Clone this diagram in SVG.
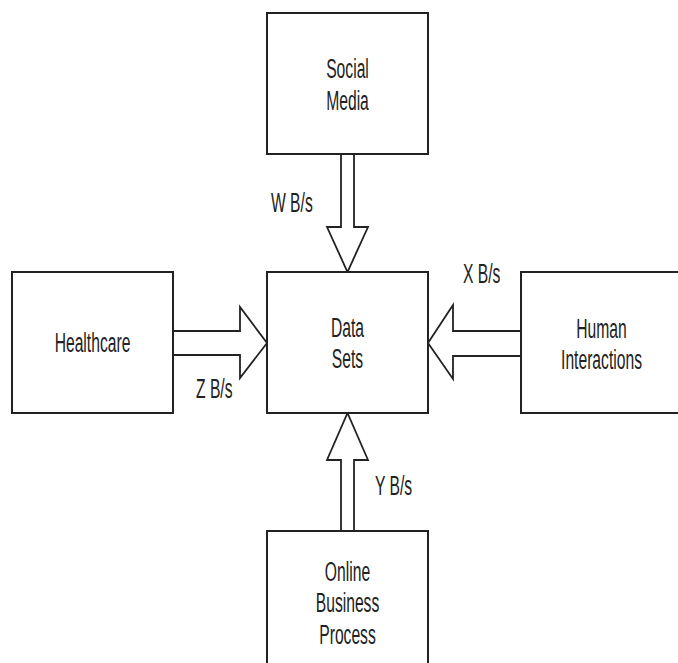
<svg xmlns="http://www.w3.org/2000/svg" width="678" height="663" viewBox="0 0 678 663">
<style>
.box{fill:#fff;stroke:#222;stroke-width:2}
.arr{fill:#fff;stroke:#222;stroke-width:1.8;stroke-linejoin:miter}
.t{font-family:"Liberation Sans",Arial,sans-serif;font-size:27px;fill:#222;text-anchor:middle}
.l{font-family:"Liberation Sans",Arial,sans-serif;font-size:27px;fill:#222;text-anchor:start}
</style>
<rect width="678" height="663" fill="#fff"/>
<g id="connectors">
<polygon class="arr" points="341,154 341,227 327,227 347.5,272 368,227 354,227 354,154"/>
<polygon class="arr" points="341,531 341,460 327,460 347.5,413 368,460 354,460 354,531"/>
<polygon class="arr" points="173,331 240,331 240,307 267,343 240,378 240,355 173,355"/>
<polygon class="arr" points="521,331 453,331 453,305 428,343 453,379 453,356 521,356"/>
<text class="l" transform="translate(271,212) scale(0.58,1)">W B/s</text>
<text class="l" transform="translate(196,398) scale(0.58,1)">Z B/s</text>
<text class="l" transform="translate(463,283) scale(0.58,1)">X B/s</text>
<text class="l" transform="translate(375,495) scale(0.58,1)">Y B/s</text>
</g>
<g id="social-media">
<rect class="box" x="267" y="13" width="161" height="141"/>
<text class="t" transform="translate(347.5,78) scale(0.58,1)">Social</text>
<text class="t" transform="translate(347.5,110) scale(0.58,1)">Media</text>
</g>
<g id="data-sets">
<rect class="box" x="267" y="272" width="161" height="141"/>
<text class="t" transform="translate(347.5,337) scale(0.58,1)">Data</text>
<text class="t" transform="translate(347.5,368) scale(0.58,1)">Sets</text>
</g>
<g id="healthcare">
<rect class="box" x="12" y="272" width="161" height="141"/>
<text class="t" transform="translate(92.5,352) scale(0.58,1)">Healthcare</text>
</g>
<g id="human-interactions">
<rect class="box" x="521" y="272" width="161" height="141"/>
<text class="t" transform="translate(601.5,338) scale(0.58,1)">Human</text>
<text class="t" transform="translate(601.5,369) scale(0.58,1)">Interactions</text>
</g>
<g id="online-business-process">
<rect class="box" x="267" y="531" width="161" height="141"/>
<text class="t" transform="translate(347.5,581) scale(0.58,1)">Online</text>
<text class="t" transform="translate(347.5,612) scale(0.58,1)">Business</text>
<text class="t" transform="translate(347.5,644) scale(0.58,1)">Process</text>
</g>
</svg>
